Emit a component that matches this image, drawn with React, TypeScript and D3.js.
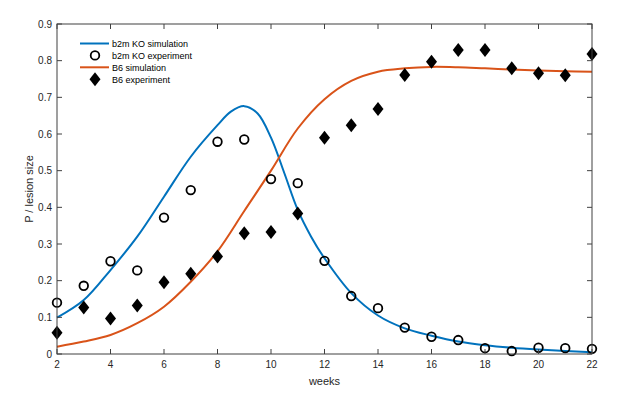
import React from "react";
import * as d3 from "d3";

// experiment data, one value per week
const weeks = [2, 3, 4, 5, 6, 7, 8, 9, 10, 11, 12, 13, 14, 15, 16, 17, 18, 19, 20, 21, 22];
const koExperiment = [0.14, 0.186, 0.253, 0.228, 0.372, 0.447, 0.579, 0.585, 0.477, 0.466, 0.254, 0.158, 0.125, 0.072, 0.047, 0.038, 0.016, 0.008, 0.017, 0.016, 0.014];
const b6Experiment = [0.058, 0.127, 0.097, 0.132, 0.196, 0.219, 0.266, 0.329, 0.333, 0.383, 0.59, 0.624, 0.668, 0.761, 0.797, 0.829, 0.829, 0.779, 0.766, 0.76, 0.818];

// simulation curves
const koSimWeeks = [2, 3, 4, 5, 6, 7, 8, 8.5, 9, 9.5, 10, 10.5, 11, 11.5, 12, 13, 14, 15, 16, 17, 18, 19, 20, 21, 22];
const koSimulation = [0.099, 0.147, 0.229, 0.32, 0.429, 0.538, 0.624, 0.661, 0.676, 0.656, 0.59, 0.493, 0.393, 0.32, 0.261, 0.166, 0.105, 0.07, 0.05, 0.034, 0.024, 0.017, 0.012, 0.008, 0.005];
const b6SimWeeks = [2, 3, 4, 5, 6, 7, 8, 9, 10, 11, 12, 13, 14, 15, 16, 17, 18, 19, 20, 21, 22];
const b6Simulation = [0.02, 0.034, 0.052, 0.084, 0.129, 0.197, 0.28, 0.39, 0.5, 0.615, 0.695, 0.745, 0.77, 0.779, 0.783, 0.782, 0.779, 0.776, 0.773, 0.771, 0.77];

const xTicks = [2, 4, 6, 8, 10, 12, 14, 16, 18, 20, 22];
const yTicks = [0, 0.1, 0.2, 0.3, 0.4, 0.5, 0.6, 0.7, 0.8, 0.9];

const legendItems = [
  { label: "b2m KO simulation", kind: "line", color: "#0072BD" },
  { label: "b2m KO experiment", kind: "circle", color: "#000" },
  { label: "B6 simulation", kind: "line", color: "#D95319" },
  { label: "B6 experiment", kind: "diamond", color: "#000" },
];

const width = 630;
const height = 393;
const margin = { left: 57, right: 38, top: 24, bottom: 39 };
const font = "Arial, 'Liberation Sans', Helvetica, sans-serif";
const axisColor = "#404040";
const textColor = "#262626";

export default function App() {
  const x = d3.scaleLinear().domain([2, 22]).range([margin.left, width - margin.right]);
  const y = d3.scaleLinear().domain([0, 0.9]).range([height - margin.bottom, margin.top]);

  const line = d3.line<[number, number]>()
    .x(d => x(d[0]))
    .y(d => y(d[1]))
    .curve(d3.curveCatmullRom.alpha(0.5));

  const koPath = line(koSimWeeks.map((w, i) => [w, koSimulation[i]]) as [number, number][]) || "";
  const b6Path = line(b6SimWeeks.map((w, i) => [w, b6Simulation[i]]) as [number, number][]) || "";

  const x0 = x.range()[0], x1 = x.range()[1];
  const y0 = y.range()[0], y1 = y.range()[1];
  const tick = 5;

  const diamond = (cx: number, cy: number) =>
    `M${cx},${cy - 7}L${cx + 5.5},${cy}L${cx},${cy + 7}L${cx - 5.5},${cy}Z`;

  return (
    <svg width={width} height={height} style={{ position: "absolute", left: 0, top: 0, background: "#fff" }}
      fontFamily={font}>
      {/* simulation lines */}
      <path d={koPath} fill="none" stroke="#0072BD" strokeWidth={2} />
      <path d={b6Path} fill="none" stroke="#D95319" strokeWidth={2} />

      {/* experiments */}
      {weeks.map((w, i) => (
        <circle key={"c" + w} cx={x(w)} cy={y(koExperiment[i])} r={4.3} fill="none" stroke="#000" strokeWidth={1.8} />
      ))}
      {weeks.map((w, i) => (
        <path key={"d" + w} d={diamond(x(w), y(b6Experiment[i]))} fill="#000" />
      ))}

      {/* box */}
      <rect x={x0} y={y1} width={x1 - x0} height={y0 - y1} fill="none" stroke={axisColor} strokeWidth={1} />
      {xTicks.map(t => (
        <g key={"xt" + t}>
          <line x1={x(t)} x2={x(t)} y1={y0} y2={y0 - tick} stroke={axisColor} />
          <line x1={x(t)} x2={x(t)} y1={y1} y2={y1 + tick} stroke={axisColor} />
          <text x={x(t)} y={y0 + 14} textAnchor="middle" fontSize={10} fill={textColor}>{t}</text>
        </g>
      ))}
      {yTicks.map(t => (
        <g key={"yt" + t}>
          <line x1={x0} x2={x0 + tick} y1={y(t)} y2={y(t)} stroke={axisColor} />
          <line x1={x1} x2={x1 - tick} y1={y(t)} y2={y(t)} stroke={axisColor} />
          <text x={x0 - 5} y={y(t) + 3.5} textAnchor="end" fontSize={10} fill={textColor}>{t === 0 ? "0" : t.toFixed(1)}</text>
        </g>
      ))}

      {/* axis labels */}
      <text x={(x0 + x1) / 2} y={385} textAnchor="middle" fontSize={11} fill={textColor}>weeks</text>
      <text transform={`translate(33,${(y0 + y1) / 2}) rotate(-90)`} textAnchor="middle" fontSize={11} fill={textColor}>P / lesion size</text>

      {/* legend */}
      {legendItems.map((item, i) => {
        const ly = 43.5 + i * 11.9;
        return (
          <g key={item.label}>
            {item.kind === "line" && <line x1={80} x2={109} y1={ly} y2={ly} stroke={item.color} strokeWidth={2} />}
            {item.kind === "circle" && <circle cx={95} cy={ly} r={4.3} fill="none" stroke="#000" strokeWidth={1.8} />}
            {item.kind === "diamond" && <path d={diamond(95, ly)} fill="#000" />}
            <text x={112} y={ly + 3.3} fontSize={9} fill="#000">{item.label}</text>
          </g>
        );
      })}
    </svg>
  );
}
